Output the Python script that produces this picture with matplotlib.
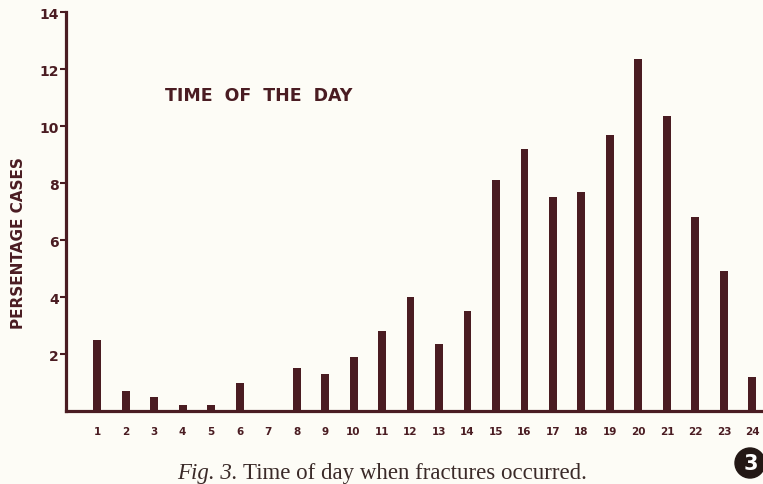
import matplotlib
matplotlib.use("Agg")
import matplotlib.pyplot as plt
from matplotlib.patches import Circle

hours = list(range(1, 25))
percent = [2.5, 0.7, 0.5, 0.2, 0.2, 1.0, 0.0, 1.5, 1.3, 1.9, 2.8, 4.0,
           2.35, 3.5, 8.1, 9.2, 7.5, 7.7, 9.7, 12.35, 10.35, 6.8, 4.9, 1.2]
yticks = [2, 4, 6, 8, 10, 12, 14]

ink = "#4a1c22"
bg = "#fdfcf6"

W, H = 763, 485
fig = plt.figure(figsize=(W / 100, H / 100), dpi=100, facecolor=bg)
ax = fig.add_axes([0.0865, 0.1505, 0.9135, 0.8225], facecolor=bg)

ax.bar(hours, percent, width=0.28, color=ink, zorder=2)

ax.set_xlim(-0.09, 24.37)
ax.set_ylim(0, 14)
for s in ["top", "right"]:
    ax.spines[s].set_visible(False)
for s in ["left", "bottom"]:
    ax.spines[s].set_color(ink)
    ax.spines[s].set_linewidth(2.3)

ax.set_yticks(yticks)
ax.set_yticklabels([str(v) for v in yticks], fontsize=10, fontweight="bold", color=ink)
ax.tick_params(axis="y", length=4, width=1.5, color=ink, pad=1)
ax.set_xticks(hours)
ax.set_xticklabels([str(h) for h in hours], fontsize=7.5, fontweight="bold", color=ink)
ax.tick_params(axis="x", length=0, pad=11)

ax.set_ylabel("PERSENTAGE CASES", fontsize=11, fontweight="bold", color=ink)
ax.yaxis.set_label_coords(-0.058, 0.424)

fig.text(165 / W, 1 - 96 / H, "TIME  OF  THE  DAY", fontsize=12.5, fontweight="bold",
         color=ink, ha="left", va="center")

fig.text(177 / W, 1 - 479 / H, "Fig. 3.", fontsize=16.5, style="italic", color="#3a2a28",
         family="Liberation Serif", ha="left", va="baseline")
fig.text(243 / W, 1 - 479 / H, "Time of day when fractures occurred.", fontsize=16.5,
         color="#3a2a28", family="Liberation Serif", ha="left", va="baseline")

r = 15
circ = Circle((750, H - 464), r, transform=None, color="#231815", clip_on=False)
fig.patches.append(circ)
fig.text(751 / W, 1 - 464 / H, "3", fontsize=15, fontweight="bold", color="white",
         ha="center", va="center")

fig.savefig("out.png", dpi=100, facecolor=bg)
